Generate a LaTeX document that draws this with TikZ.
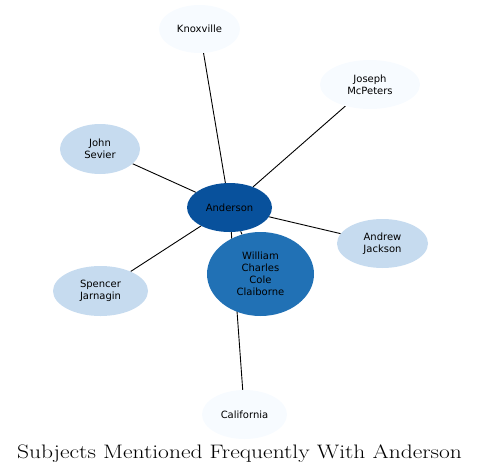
\documentclass[tikz,border=0pt]{standalone}
\usepackage{graphicx}
\usepackage{fontspec}
\newfontfamily\labelfont{DejaVu Sans}
\usetikzlibrary{shapes.geometric,backgrounds}
\definecolor{pale}{HTML}{F7FBFF}
\definecolor{light}{HTML}{C6DBEF}
\definecolor{deep}{HTML}{08519C}
\definecolor{mid}{HTML}{2171B5}
\begin{document}
\begin{tikzpicture}[x=1pt,y=-1pt,
  blob/.style={ellipse,inner sep=0pt,align=center,font=\labelfont\fontsize{10}{12}\selectfont,text=black},
  edge/.style={draw=black,line width=0.9pt}]
\useasboundingbox (0,0) rectangle (481,474);
\node[blob,fill=pale,minimum width=81,minimum height=48] (knox) at (199.5,29) {Knoxville};
\node[blob,fill=pale,minimum width=100,minimum height=49] (mcp) at (370,84.5) {Joseph\\McPeters};
\node[blob,fill=light,minimum width=80,minimum height=50] (sev) at (100,149) {John\\Sevier};
\node[blob,fill=deep,minimum width=85,minimum height=49] (and) at (229.5,207.5) {Anderson};
\node[blob,fill=light,minimum width=91,minimum height=49] (jack) at (382.5,243.5) {Andrew\\Jackson};
\node[blob,fill=mid,minimum width=107,minimum height=84] (wcc) at (260.5,274) {William\\Charles\\Cole\\Claiborne};
\node[blob,fill=light,minimum width=95,minimum height=50] (jarn) at (100.5,291) {Spencer\\Jarnagin};
\node[blob,fill=pale,minimum width=85,minimum height=49] (cal) at (244.5,414.5) {California};
\begin{pgfonlayer}{background}
\draw[edge] (and) -- (knox);
\draw[edge] (and) -- (mcp);
\draw[edge] (and) -- (sev);
\draw[edge] (and) -- (jack);
\draw[edge] (and) -- (jarn);
\draw[edge] (and) -- (cal);
\draw[edge] (and) -- (wcc);
\end{pgfonlayer}
\node[anchor=base,inner sep=0pt,font=\fontsize{19.5}{22}\selectfont] (title) at (239.5,458) {\scalebox{1.205}[1]{Subjects Mentioned Frequently With Anderson}};
\end{tikzpicture}
\end{document}
